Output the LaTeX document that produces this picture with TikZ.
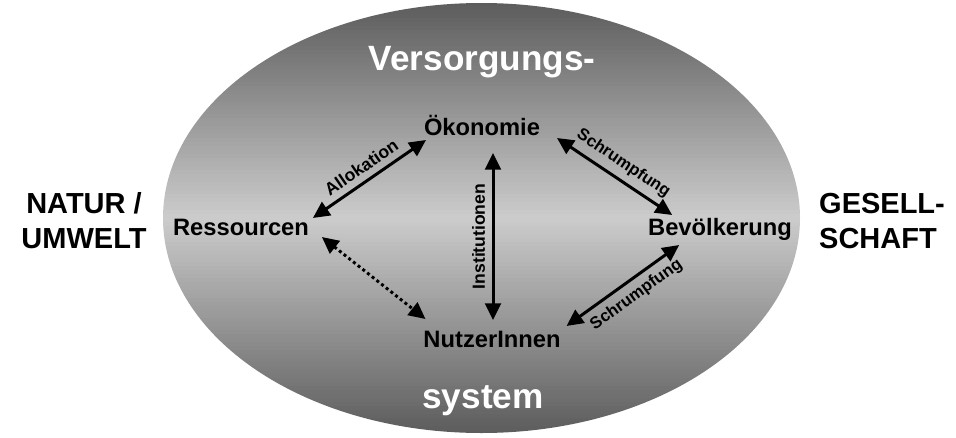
\documentclass[tikz,border=0pt]{standalone}
\usepackage{fontspec}
\setmainfont{Liberation Sans}
\usetikzlibrary{arrows.meta}

\definecolor{rimgray}{gray}{0.36}
\definecolor{coregray}{gray}{0.80}

\begin{document}
\begin{tikzpicture}[x=0.02cm,y=0.02cm,
  every node/.style={inner sep=0pt, outer sep=0pt},
  title/.style={font=\fontsize{20}{24}\selectfont\bfseries, text=white, anchor=base},
  side/.style={font=\fontsize{16.5}{19.9}\selectfont\bfseries, anchor=center},
  concept/.style={font=\fontsize{13.5}{16}\selectfont\bfseries, anchor=base},
  lbl/.style={font=\fontsize{10}{12}\selectfont\bfseries, sloped, inner sep=4.5pt},
  slbl/.style={font=\fontsize{9.5}{11}\selectfont\bfseries, sloped, inner sep=4.5pt},
  link/.style={line width=1.7pt, {Triangle[length=9.5pt,width=9pt]}-{Triangle[length=9.5pt,width=9pt]}},
  dotlink/.style={link, dash pattern=on 1.7pt off 1.7pt}]

\useasboundingbox (0,0) rectangle (956,437);

% system ellipse: dark rim at top and bottom, light band across the middle
\begin{scope}
  \clip (481.5,219) ellipse [x radius=318.5, y radius=215];
  \foreach \k in {0,...,108} {
    \pgfmathsetmacro\ylo{3+4*\k}
    \pgfmathsetmacro\mix{int(round(100*(1-abs(\ylo+2-219)/216)))}
    \fill[coregray!\mix!rimgray] (160,\ylo) rectangle (804,\ylo+4.4);
  }
\end{scope}

% title inside the ellipse
\node[title] (head) at (482,367) {Versorgungs-};
\node[title] (foot) at (483,29) {system};

% surroundings
\node[side, align=center] (nature) at (84,216) {NATUR /\\UMWELT};
\node[side, align=left] (society) at (882,216) {GESELL-\\SCHAFT};

% subsystems
\node[concept] (oek) at (482,302) {Ökonomie};
\node[concept] (res) at (241,202) {Ressourcen};
\node[concept] (bev) at (720,202) {Bevölkerung};
\node[concept] (nut) at (492,90) {NutzerInnen};

% relations
\draw[link] ([shift={(4,17)}]res.base east) -- ([shift={(2,-5)}]oek.base west)
  node[lbl, midway, above] {Allokation};
\draw[link] ([shift={(17,-3)}]oek.base east) -- ([shift={(24,20)}]bev.base west)
  node[slbl, midway, above] {Schrumpfung};
\draw[link] ([shift={(1,27)}]nut.base) -- ([shift={(11,-18)}]oek.base)
  node[lbl, midway, above] {Institutionen};
\draw[link] ([shift={(6,21)}]nut.base east) -- ([shift={(31,-10)}]bev.base west)
  node[slbl, pos=0.54, below] {Schrumpfung};
\draw[dotlink] ([shift={(13,-2)}]res.base east) -- ([shift={(2,28)}]nut.base west);

\end{tikzpicture}
\end{document}
